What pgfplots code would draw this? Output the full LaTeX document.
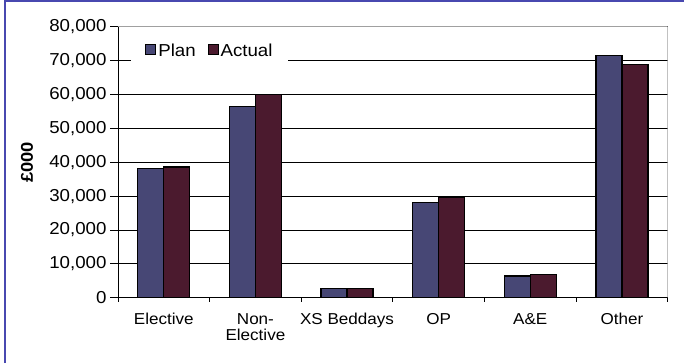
\documentclass[border=0pt]{standalone}
\usepackage{pgfplots}
\pgfplotsset{compat=1.18}
\usepackage{fontspec}
\setmainfont{Liberation Sans}[FakeStretch=1.08]

\definecolor{plancol}{RGB}{71,71,117}
\definecolor{actualcol}{RGB}{75,26,46}
\definecolor{framecol}{RGB}{72,72,176}
\definecolor{bordergray}{RGB}{160,160,160}

\newcommand{\ticksize}{\fontsize{17.3bp}{20bp}\selectfont}
\newcommand{\catsize}{\fontsize{15.8bp}{16.7bp}\selectfont}

\begin{document}
\begin{tikzpicture}[x=1bp,y=1bp]
\useasboundingbox (0,0) rectangle (684,363);
% outer frame (left and top edges)
\draw[framecol, line width=2bp] (4.5,0) -- (4.5,362) -- (684,362);

\begin{axis}[
  at={(118bp,65.3bp)}, anchor=south west,
  scale only axis, width=549.7bp, height=271bp,
  xmin=-0.5, xmax=5.5, ymin=0, ymax=80000,
  ybar=0pt, bar width=26bp,
  axis line style={draw=none},
  xtick={0,1,2,3,4,5},
  xticklabels={Elective,{Non-\\Elective},XS Beddays,OP,A\&E,Other},
  minor xtick={-0.5,0.5,1.5,2.5,3.5,4.5,5.5},
  xtick pos=bottom, ytick pos=left,
  ytick={0,10000,...,80000},
  scaled y ticks=false,
  /pgf/number format/.cd, 1000 sep={,}, assume math mode=true,
  /pgfplots/.cd,
  tick align=outside,
  major tick length=8bp, minor tick length=4bp,
  major x tick style={draw=none},
  tick style={black, line width=0.9bp},
  ymajorgrids, grid style={black, line width=0.9bp},
  yticklabel style={font=\ticksize},
  xticklabel style={font=\catsize, align=center, anchor=north, yshift=-4bp},
  ylabel={\textbf{£000}},
  ylabel style={font=\fontsize{17bp}{19bp}\selectfont, at={(axis description cs:-0.1655,0.5)}, anchor=center},
  legend style={draw=none, fill=white, font=\ticksize,
    at={(axis description cs:0.024,0.952)}, anchor=north west,
    legend columns=2, inner xsep=14bp, inner ysep=2bp,
    /tikz/every even column/.append style={column sep=10bp}},
  legend image code/.code={\draw[#1, line width=0.9bp] (0bp,-4bp) rectangle (10bp,6bp);},
]
\addplot[fill=plancol, draw=black, line width=1.2bp]
  coordinates {(0,38200) (1,56500) (2,2600) (3,28000) (4,6400) (5,71500)};
\addplot[fill=actualcol, draw=black, line width=1.2bp]
  coordinates {(0,38600) (1,60000) (2,2600) (3,29700) (4,6900) (5,68800)};
\legend{Plan,Actual}
% plot area border: black left and bottom, grey top and right
\draw[bordergray, line width=1bp] (rel axis cs:0,1) -- (rel axis cs:1,1) -- (rel axis cs:1,0);
\draw[black, line width=1bp] (rel axis cs:0,1) -- (rel axis cs:0,0) -- (rel axis cs:1,0);
\end{axis}
\end{tikzpicture}
\end{document}
